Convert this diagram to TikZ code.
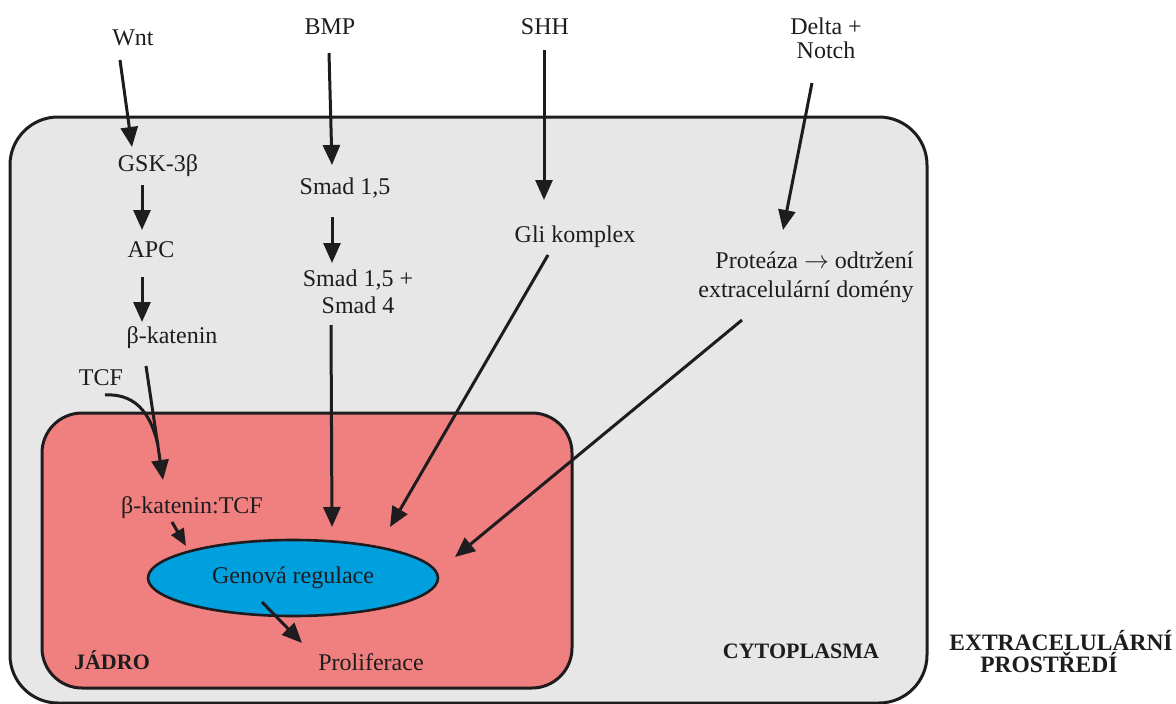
\documentclass[tikz,border=0pt]{standalone}
\usepackage{fontspec}
\setmainfont{Liberation Serif}
\usetikzlibrary{arrows.meta,shapes.geometric}
\definecolor{cytofill}{RGB}{231,231,231}
\definecolor{nucfill}{RGB}{240,128,128}
\definecolor{genefill}{RGB}{0,160,222}
\definecolor{ink}{RGB}{30,28,30}
\begin{document}
\begin{tikzpicture}[x=1pt,y=-1pt,
  font=\fontsize{24}{29}\selectfont, text=ink,
  lbl/.style={inner sep=1pt, align=center},
  boldlbl/.style={inner sep=1pt, font=\fontsize{22}{26}\selectfont\bfseries},
  arr/.style={draw=ink, line width=3pt, -{Triangle[length=20pt,width=17pt]}},
  shortarr/.style={draw=ink, line width=3pt, -{Triangle[length=17pt,width=14pt]}},
  compartment/.style={draw=ink, line width=3pt, rectangle, inner sep=0pt}]
\useasboundingbox (0,0) rectangle (1176,704);
% compartments
\node[compartment, fill=cytofill, rounded corners=48pt, minimum width=917pt, minimum height=586pt] (cell) at (468.5,410) {};
\node[compartment, fill=nucfill, rounded corners=40pt, minimum width=530pt, minimum height=275pt] (nucleus) at (307,550.5) {};
\node[ellipse, draw=ink, line width=2.6pt, fill=genefill, minimum width=290pt, minimum height=76pt, inner sep=0pt] (gen) at (293,578) {Genová regulace};
% labels
\node[lbl] (wnt) at (133,38) {Wnt};
\node[lbl] (bmp) at (330,27) {BMP};
\node[lbl] (shh) at (545,27) {SHH};
\node[lbl, font=\fontsize{24}{24}\selectfont] (delta) at (826,38) {Delta +\\Notch};
\node[lbl] (gsk) at (158,166) {GSK-3β};
\node[lbl] (apc) at (151,250) {APC};
\node[lbl] (bkat) at (172,338) {β-katenin};
\node[lbl] (tcf) at (101,378) {TCF};
\node[lbl] (bkattcf) at (192,508) {β-katenin:TCF};
\node[lbl] (smad15) at (345,188) {Smad 1,5};
\node[lbl, font=\fontsize{24}{27}\selectfont] (smad154) at (358,292) {Smad 1,5 +\\Smad 4};
\node[lbl, align=right] (prot) at (806,277) {Proteáza $\rightarrow$ odtržení\\extracelulární domény};
\node[lbl] (gli) at (575,237) {Gli komplex};
\node[lbl] (prolif) at (371,662) {Proliferace};
\node[boldlbl] (jadro) at (112,660) {JÁDRO};
\node[boldlbl] (cyto) at (801,651) {CYTOPLASMA};
\node[boldlbl, align=left, font=\fontsize{23.5}{22}\selectfont\bfseries] (extra) at (1061,652) {EXTRACELULÁRNÍ\\\hspace*{31pt}PROSTŘEDÍ};
% arrows
\draw[arr] ([shift={(-13,22)}]wnt.center) -- ([shift={(-26,-19)}]gsk.center);
\draw[arr] ([shift={(-16,19)}]gsk.center) -- ([shift={(-9,-20)}]apc.center);
\draw[arr] ([shift={(-9,27)}]apc.center) -- ([shift={(-30,-16)}]bkat.center);
\draw[arr] ([shift={(-26,28)}]bkat.center) -- ([shift={(-29,-28)}]bkattcf.center);
\draw[draw=ink, line width=3pt] ([shift={(4,17)}]tcf.center) .. controls (140,393) and (152,420) .. ([shift={(-34,-63)}]bkattcf.center);
\draw[shortarr] ([shift={(-20,14)}]bkattcf.center) -- ([shift={(-107,-32)}]gen.center);
\draw[arr] ([shift={(-1,26)}]bmp.center) -- ([shift={(-13,-23)}]smad15.center);
\draw[arr] ([shift={(-13,29)}]smad15.center) -- ([shift={(-26,-29)}]smad154.center);
\draw[arr] ([shift={(-27,33)}]smad154.center) -- ([shift={(39,-51)}]gen.center);
\draw[arr] ([shift={(-1,23)}]shh.center) -- ([shift={(-31,-37)}]gli.center);
\draw[arr] ([shift={(-27,18)}]gli.center) -- ([shift={(97,-51)}]gen.center);
\draw[arr] ([shift={(-14,45)}]delta.center) -- ([shift={(-23,-47)}]prot.center);
\draw[arr] ([shift={(-64,43)}]prot.center) -- ([shift={(162,-21)}]gen.center);
\draw[arr] ([shift={(-31,24)}]gen.center) -- ([shift={(-69,-19)}]prolif.center);
\end{tikzpicture}
\end{document}
